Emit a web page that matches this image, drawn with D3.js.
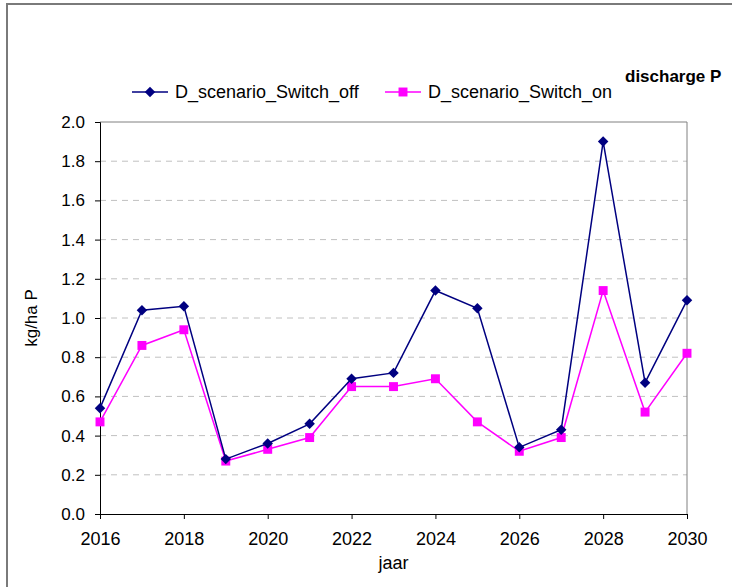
<!DOCTYPE html>
<html>
<head>
<meta charset="utf-8">
<script src="https://cdn.jsdelivr.net/npm/d3@7"></script>
<style>
  body { margin: 0; background: #fff; }
  svg { display: block; font-family: "Liberation Sans", Arial, sans-serif; }
</style>
</head>
<body>
<div id="chart"></div>
<script>
// data
const years = [2016, 2017, 2018, 2019, 2020, 2021, 2022, 2023, 2024, 2025, 2026, 2027, 2028, 2029, 2030];
const switchOff = [0.54, 1.04, 1.06, 0.28, 0.36, 0.46, 0.69, 0.72, 1.14, 1.05, 0.34, 0.43, 1.90, 0.67, 1.09];
const switchOn = [0.47, 0.86, 0.94, 0.27, 0.33, 0.39, 0.65, 0.65, 0.69, 0.47, 0.32, 0.39, 1.14, 0.52, 0.82];
const yTicks = [0, 0.2, 0.4, 0.6, 0.8, 1.0, 1.2, 1.4, 1.6, 1.8, 2.0];
const xTicks = [2016, 2018, 2020, 2022, 2024, 2026, 2028, 2030];
const seriesNames = ["D_scenario_Switch_off", "D_scenario_Switch_on"];

const canvasWidth = 732, canvasHeight = 587;
const plotLeft = 100, plotRight = 687, plotTop = 122, plotBottom = 514;

const svg = d3.select("#chart").append("svg")
  .attr("width", canvasWidth)
  .attr("height", canvasHeight);

// outer frame of the chart (goes off the picture right and bottom)
svg.append("rect")
  .attr("x", 7).attr("y", 4)
  .attr("width", 740).attr("height", 600)
  .attr("fill", "none")
  .attr("stroke", "#7a7a7a")
  .attr("stroke-width", 2);

const x = d3.scaleLinear().domain([2016, 2030]).range([plotLeft, plotRight]);
const y = d3.scaleLinear().domain([0, 2]).range([plotBottom, plotTop]);

// gridlines
svg.append("g")
  .selectAll("line")
  .data(yTicks.filter(d => d > 0 && d < 2))
  .join("line")
  .attr("x1", plotLeft).attr("x2", plotRight)
  .attr("y1", d => y(d)).attr("y2", d => y(d))
  .attr("stroke", "#c0c0c0")
  .attr("stroke-dasharray", "6,5");

// plot area border (top + right grey)
svg.append("path")
  .attr("d", `M${plotLeft},${plotTop}H${plotRight}V${plotBottom}`)
  .attr("fill", "none")
  .attr("stroke", "#808080")
  .attr("stroke-width", 1);

//============ axes ============
const yAxis = svg.append("g")
  .attr("transform", `translate(${plotLeft},0)`)
  .call(d3.axisLeft(y).tickValues(yTicks).tickFormat(d3.format(".1f")).tickSize(5).tickPadding(10));

const xAxis = svg.append("g")
  .attr("transform", `translate(0,${plotBottom})`)
  .call(d3.axisBottom(x).tickValues(xTicks).tickFormat(d3.format("d")).tickSize(5).tickPadding(13));

[yAxis, xAxis].forEach(a => {
  a.select(".domain").attr("stroke", "#000");
  a.selectAll(".tick line").attr("stroke", "#000");
  a.selectAll("text")
    .attr("fill", "#000")
    .style("font-family", "Liberation Sans, Arial, sans-serif");
});
yAxis.selectAll("text").style("font-size", "17px");
xAxis.selectAll("text").style("font-size", "18px");

// axis titles
svg.append("text")
  .attr("transform", `translate(37,${(plotTop + plotBottom) / 2}) rotate(-90)`)
  .attr("text-anchor", "middle")
  .style("font-size", "17px")
  .text("kg/ha P");

svg.append("text")
  .attr("x", (plotLeft + plotRight) / 2)
  .attr("y", 569)
  .attr("text-anchor", "middle")
  .style("font-size", "18px")
  .text("jaar");

// title
svg.append("text")
  .attr("x", 625)
  .attr("y", 82)
  .style("font-size", "17px")
  .style("font-weight", "bold")
  .text("discharge P");

//============ series ============
const line = d3.line()
  .x((d, i) => x(years[i]))
  .y(d => y(d));

const diamond = d3.symbol().type(d3.symbolDiamond2).size(70);
const square = d3.symbol().type(d3.symbolSquare).size(80);

const series = [
  { values: switchOn, color: "#ff00ff", symbol: square },
  { values: switchOff, color: "#000080", symbol: diamond }
];

series.forEach(s => {
  svg.append("path")
    .datum(s.values)
    .attr("fill", "none")
    .attr("stroke", s.color)
    .attr("stroke-width", 1.5)
    .attr("d", line);

  svg.append("g")
    .selectAll("path")
    .data(s.values)
    .join("path")
    .attr("d", s.symbol)
    .attr("transform", (d, i) => `translate(${x(years[i])},${y(d)})`)
    .attr("fill", s.color);
});

//============ legend ============
const legendItems = [
  { name: seriesNames[0], color: "#000080", symbol: diamond, x0: 132 },
  { name: seriesNames[1], color: "#ff00ff", symbol: square, x0: 385 }
];
const legendY = 92;

const lg = svg.append("g")
  .selectAll("g")
  .data(legendItems)
  .join("g")
  .attr("transform", d => `translate(${d.x0},${legendY})`);

lg.append("line")
  .attr("x1", 0).attr("x2", 36)
  .attr("stroke", d => d.color)
  .attr("stroke-width", 1.5);

lg.append("path")
  .attr("d", d => d.symbol())
  .attr("transform", "translate(18,0)")
  .attr("fill", d => d.color);

lg.append("text")
  .attr("x", 43)
  .attr("y", 6)
  .style("font-size", "18px")
  .text(d => d.name);
</script>
</body>
</html>
